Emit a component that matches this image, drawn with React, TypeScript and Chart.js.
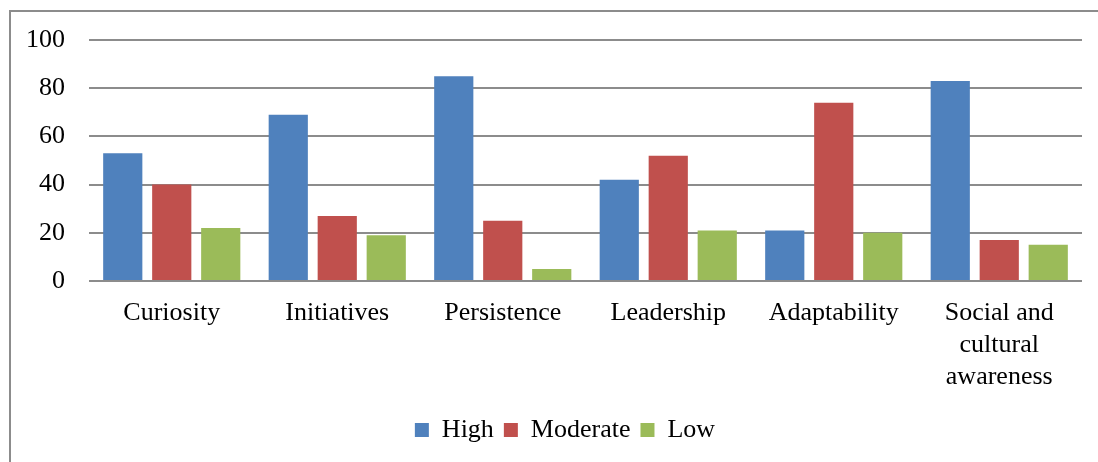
import React, { useEffect, useRef } from "react";
import { Chart, registerables } from "chart.js";

Chart.register(...registerables);

const categories: (string | string[])[] = [
  "Curiosity",
  "Initiatives",
  "Persistence",
  "Leadership",
  "Adaptability",
  ["Social and", "cultural", "awareness"],
];
const highValues = [53, 69, 85, 42, 21, 83];
const moderateValues = [40, 27, 25, 52, 74, 17];
const lowValues = [22, 19, 5, 21, 20, 15];
const yTicks = [0, 20, 40, 60, 80, 100];

const FONT = "'Liberation Serif', 'Times New Roman', serif";

const legendShift = {
  id: "legendShift",
  afterLayout(chart: any) {
    const lg = chart.legend;
    if (lg) {
      lg.left += 11;
      lg.right += 11;
    }
  },
};

export default function App() {
  const ref = useRef<HTMLCanvasElement | null>(null);

  useEffect(() => {
    if (!ref.current) return;
    const chart = new Chart(ref.current, {
      type: "bar",
      data: {
        labels: categories,
        datasets: [
          { label: "High", data: highValues, backgroundColor: "#4F81BD" },
          { label: "Moderate", data: moderateValues, backgroundColor: "#C0504D" },
          { label: "Low", data: lowValues, backgroundColor: "#9BBB59" },
        ],
      },
      plugins: [legendShift],
      options: {
        animation: false,
        responsive: false,
        maintainAspectRatio: false,
        datasets: {
          bar: { categoryPercentage: 0.888, barPercentage: 0.8 },
        },
        layout: { padding: { left: 26, right: 16, top: 40, bottom: 9 } },
        plugins: {
          tooltip: { enabled: false },
          legend: {
            position: "bottom",
            labels: {
              boxWidth: 14,
              boxHeight: 14,
              padding: 10,
              color: "#000",
              font: { family: FONT, size: 26 },
            },
          },
        },
        scales: {
          x: {
            grid: { display: false },
            border: { display: false },
            ticks: {
              color: "#000",
              padding: 8,
              maxRotation: 0,
              autoSkip: false,
              font: { family: FONT, size: 26, lineHeight: 1.23 },
            },
            afterFit: (scale: any) => {
              scale.height = 126;
            },
          },
          y: {
            min: 0,
            max: 100,
            afterBuildTicks: (scale: any) => {
              scale.ticks = yTicks.map((v) => ({ value: v }));
            },
            afterFit: (scale: any) => {
              scale.width = 63;
            },
            grid: { color: "#8c8c8c", lineWidth: 2, drawTicks: false },
            border: { display: false },
            ticks: {
              color: "#000",
              padding: 24,
              font: { family: FONT, size: 26 },
            },
          },
        },
      },
    });
    return () => chart.destroy();
  }, []);

  return (
    <div
      style={{
        position: "fixed",
        left: 0,
        top: 0,
        width: 1098,
        height: 462,
        overflow: "hidden",
        background: "#fff",
      }}
    >
      <div
        style={{
          position: "absolute",
          left: 9,
          top: 10,
          width: 1200,
          height: 600,
          border: "2px solid #8c8c8c",
          boxSizing: "border-box",
        }}
      />
      <canvas
        ref={ref}
        width={1098}
        height={462}
        style={{ position: "absolute", left: 0, top: 0, width: 1098, height: 462 }}
      />
    </div>
  );
}
